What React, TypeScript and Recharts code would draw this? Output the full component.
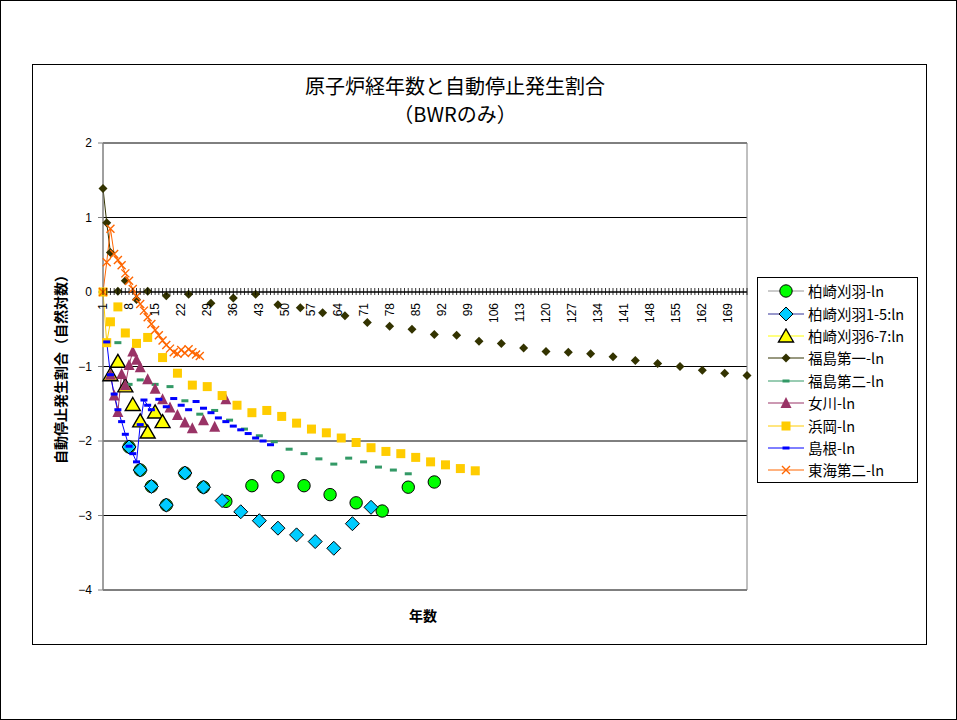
import React from 'react';
import { LineChart, Line, XAxis, YAxis, CartesianGrid, ReferenceLine, ReferenceArea, Legend } from 'recharts';

// [year index, ln(rate)]
const kashiwazaki = [
  [8, -2.08], [11, -2.39], [14, -2.61], [18, -2.86], [23, -2.43], [28, -2.62], [34, -2.81], [41, -2.6],
  [48, -2.48], [55, -2.6], [62, -2.72], [69, -2.83], [76, -2.94], [83, -2.62], [90, -2.55]
];
const kashiwazaki15 = [
  [8, -2.08], [11, -2.39], [14, -2.61], [18, -2.86], [23, -2.43], [28, -2.62], [33, -2.8], [38, -2.95],
  [43, -3.07], [48, -3.17], [53, -3.26], [58, -3.35], [63, -3.44], [68, -3.11], [73, -2.89]
];
const kashiwazaki67 = [
  [3, -1.11], [5, -0.93], [7, -1.26], [9, -1.51], [11, -1.73], [13, -1.88], [15, -1.61], [17, -1.74]
];
const fukushima1 = [
  [1, 1.39], [2, 0.93], [3, 0.53], [5, 0.01], [7, 0.15], [10, -0.1], [13, 0.01], [18, -0.05], [24, -0.03],
  [30, -0.15], [36, -0.08], [42, -0.03], [48, -0.17], [54, -0.21], [60, -0.28], [66, -0.32], [72, -0.41],
  [78, -0.46], [84, -0.5], [90, -0.57], [96, -0.58], [102, -0.66], [108, -0.69], [114, -0.75], [120, -0.8],
  [126, -0.81], [132, -0.83], [138, -0.87], [144, -0.92], [150, -0.96], [156, -1.0], [162, -1.05],
  [168, -1.09], [174, -1.12]
];
const fukushima2 = [
  [5, -0.68], [8, -1.24], [11, -1.18], [15, -1.24], [19, -1.27], [23, -1.46], [27, -1.64], [31, -1.59],
  [35, -1.72], [39, -1.84], [43, -1.93], [47, -2.01], [51, -2.11], [55, -2.17], [59, -2.24], [63, -2.31],
  [67, -2.23], [71, -2.28], [75, -2.35], [79, -2.39], [83, -2.44]
];
const onagawa = [
  [3, -1.11], [4, -1.39], [5, -1.61], [6, -1.1], [7, -1.25], [8, -0.98], [9, -0.8], [10, -0.91], [11, -1.01],
  [13, -1.17], [15, -1.3], [17, -1.44], [19, -1.55], [21, -1.65], [23, -1.75], [25, -1.83], [28, -1.72],
  [31, -1.81], [34, -1.44]
];
const hamaoka = [
  [1, 0], [2, -0.68], [3, -0.4], [5, -0.2], [7, -0.55], [10, -0.69], [13, -0.61], [17, -0.88], [21, -1.09],
  [25, -1.25], [29, -1.27], [33, -1.39], [37, -1.52], [41, -1.62], [45, -1.59], [49, -1.67], [53, -1.76],
  [57, -1.84], [61, -1.89], [65, -1.96], [69, -2.02], [73, -2.09], [77, -2.14], [81, -2.17], [85, -2.22],
  [89, -2.28], [93, -2.32], [97, -2.37], [101, -2.4]
];
const shimane = [
  [2, -0.67], [3, -1.11], [4, -1.37], [5, -1.58], [6, -1.74], [7, -1.91], [8, -2.07], [9, -2.17], [10, -2.28],
  [11, -1.78], [12, -1.45], [13, -1.52], [14, -1.58], [16, -1.44], [18, -1.54], [20, -1.43], [22, -1.52],
  [24, -1.58], [26, -1.47], [28, -1.56], [30, -1.62], [32, -1.69], [34, -1.74], [36, -1.8], [38, -1.85],
  [40, -1.9], [42, -1.96], [44, -2.0], [46, -2.05]
];
const tokai2 = [
  [1, 0], [2, 0.4], [3, 0.85], [4, 0.51], [5, 0.43], [6, 0.36], [7, 0.25], [8, 0.15], [9, 0.04], [10, -0.06],
  [11, -0.16], [12, -0.25], [13, -0.34], [14, -0.43], [15, -0.51], [16, -0.58], [17, -0.65], [18, -0.71],
  [19, -0.76], [20, -0.81], [21, -0.83], [22, -0.78], [23, -0.82], [24, -0.77], [25, -0.81], [26, -0.84],
  [27, -0.86]
];

const CAT_COUNT = 174;
const xTicks = Array.from({ length: CAT_COUNT }, (_, i) => i + 1);
const yTicks = [-4, -3, -2, -1, 0, 1, 2];

const SERIES = [
  { key: 's1', name: '柏崎刈羽-ln', points: kashiwazaki, stroke: '#969696', marker: 'circle', fill: '#00FF00' },
  { key: 's2', name: '柏崎刈羽1-5:ln', points: kashiwazaki15, stroke: '#333399', marker: 'diamond', fill: '#00CCFF' },
  { key: 's3', name: '柏崎刈羽6-7:ln', points: kashiwazaki67, stroke: '#FFFF00', marker: 'bigTriangle', fill: '#FFFF00' },
  { key: 's4', name: '福島第一-ln', points: fukushima1, stroke: '#333300', marker: 'smallDiamond', fill: '#333300' },
  { key: 's5', name: '福島第二-ln', points: fukushima2, stroke: '#339966', marker: 'dash', fill: '#339966' },
  { key: 's6', name: '女川-ln', points: onagawa, stroke: '#993366', marker: 'triangle', fill: '#993366' },
  { key: 's7', name: '浜岡-ln', points: hamaoka, stroke: '#FFCC00', marker: 'square', fill: '#FFCC00' },
  { key: 's8', name: '島根-ln', points: shimane, stroke: '#0000FF', marker: 'dash', fill: '#0000FF' },
  { key: 's9', name: '東海第二-ln', points: tokai2, stroke: '#FF6600', marker: 'cross', fill: '#FF6600' }
];

// one row per year index, blanks where a series has no value
const data = xTicks.map((cat) => {
  const row: any = { cat };
  SERIES.forEach((s) => {
    const hit = s.points.find((p) => p[0] === cat);
    row[s.key] = hit ? hit[1] : null;
  });
  return row;
});

const W = 957;
const H = 720;
const TOP = 143;
const BOTTOM = 100;
const X_AXIS_H = 30;
const PLOT_H = H - TOP - BOTTOM - X_AXIS_H;
const Y_MIN = -4;
const Y_MAX = 2;
const ZERO_Y = TOP + (PLOT_H * Y_MAX) / (Y_MAX - Y_MIN);

const JP = '"Noto Sans CJK JP", sans-serif';
const NUM = '"Liberation Sans", Arial, sans-serif';

const drawMarker = (type: string, cx: number, cy: number, fill: string, k?: string) => {
  switch (type) {
    case 'circle':
      return <circle key={k} cx={cx} cy={cy} r={6.2} fill={fill} stroke="#000" strokeWidth={1} />;
    case 'diamond':
      return <path key={k} d={`M${cx},${cy - 7}L${cx + 7},${cy}L${cx},${cy + 7}L${cx - 7},${cy}Z`} fill={fill} stroke="#000" strokeWidth={1} />;
    case 'smallDiamond':
      return <path key={k} d={`M${cx},${cy - 4.5}L${cx + 4.5},${cy}L${cx},${cy + 4.5}L${cx - 4.5},${cy}Z`} fill={fill} />;
    case 'bigTriangle':
      return <path key={k} d={`M${cx},${cy - 7}L${cx + 7.5},${cy + 6}L${cx - 7.5},${cy + 6}Z`} fill={fill} stroke="#000" strokeWidth={1.4} />;
    case 'triangle':
      return <path key={k} d={`M${cx},${cy - 6}L${cx + 5.5},${cy + 5}L${cx - 5.5},${cy + 5}Z`} fill={fill} />;
    case 'square':
      return <rect key={k} x={cx - 4.5} y={cy - 4.5} width={9} height={9} fill={fill} />;
    case 'dash':
      return <rect key={k} x={cx - 3.5} y={cy - 1.5} width={7} height={3} fill={fill} />;
    case 'cross':
      return (
        <path key={k} d={`M${cx - 4},${cy - 4}L${cx + 4},${cy + 4}M${cx + 4},${cy - 4}L${cx - 4},${cy + 4}`} stroke={fill} strokeWidth={1.4} />
      );
    default:
      return <g key={k} />;
  }
};

const makeDot = (s: any) => (props: any) => {
  const { cx, cy, index, value } = props;
  const k = `${s.key}-${index}`;
  if (value == null || cy == null || Number.isNaN(cy)) return <g key={k} />;
  return drawMarker(s.marker, cx, cy, s.fill, k);
};

const XTick = (props: any) => {
  const { x, payload } = props;
  const v = payload.value;
  const ly = ZERO_Y + 11;
  return (
    <g>
      <line x1={x} x2={x} y1={ZERO_Y - 4} y2={ZERO_Y + 3} stroke="#000" strokeWidth={0.8} />
      {(v - 1) % 7 === 0 && (
        <text
          x={x}
          y={ly}
          transform={`rotate(-90 ${x} ${ly})`}
          textAnchor="end"
          dominantBaseline="central"
          fontSize={12}
          fontFamily={NUM}
          fill="#000"
        >
          {v}
        </text>
      )}
    </g>
  );
};

const renderLegend = () => (
  <div
    style={{
      border: '1px solid #000',
      background: '#fff',
      width: 159,
      height: 202,
      boxSizing: 'content-box',
      paddingTop: 2
    }}
  >
    {SERIES.map((s) => (
      <div key={s.key} style={{ display: 'flex', alignItems: 'center', height: 22.4 }}>
        <svg width={50} height={16} style={{ flex: 'none' }}>
          <line x1={10} x2={46} y1={8} y2={8} stroke={s.stroke} strokeWidth={1} />
          {drawMarker(s.marker, 28, 8, s.fill)}
        </svg>
        <span style={{ fontFamily: JP, fontSize: 14.5, lineHeight: '18px', color: '#000', whiteSpace: 'nowrap' }}>{s.name}</span>
      </div>
    ))}
  </div>
);

const titleStyle: React.CSSProperties = {
  position: 'absolute',
  left: 155,
  width: 600,
  textAlign: 'center',
  fontFamily: JP,
  fontSize: 20,
  lineHeight: '20px',
  color: '#000'
};

const App = () => {
  return (
    <div style={{ position: 'absolute', left: 0, top: 0, width: W, height: H, background: '#fff' }}>
      <LineChart
        width={W}
        height={H}
        data={data}
        margin={{ top: TOP, right: 210, left: 58, bottom: BOTTOM }}
      >
        <CartesianGrid horizontal vertical={false} stroke="#000" strokeWidth={1} />
        <XAxis
          dataKey="cat"
          type="category"
          scale="point"
          padding={{ left: 0, right: 0 }}
          ticks={xTicks}
          interval={0}
          height={X_AXIS_H}
          axisLine={false}
          tickLine={false}
          tick={<XTick />}
        />
        <YAxis
          type="number"
          domain={[Y_MIN, Y_MAX]}
          ticks={yTicks}
          interval={0}
          width={45}
          axisLine={{ stroke: '#808080' }}
          tickLine={{ stroke: '#808080' }}
          tickSize={5}
          tickMargin={6}
          tick={{ fontSize: 12, fill: '#000', fontFamily: NUM }}
          tickFormatter={(v: number) => (v < 0 ? `−${Math.abs(v)}` : `${v}`)}
        />
        <ReferenceArea x1={1} x2={CAT_COUNT} y1={Y_MIN} y2={Y_MAX} fill="none" stroke="#808080" strokeOpacity={1} fillOpacity={0} />
        <ReferenceLine y={0} stroke="#000" strokeWidth={1} />
        <Legend
          layout="horizontal"
          align="center"
          verticalAlign="middle"
          content={renderLegend}
          wrapperStyle={{ left: 757, top: 277, width: 161, height: 204 }}
        />
        {SERIES.map((s) => (
          <Line
            key={s.key}
            dataKey={s.key}
            name={s.name}
            stroke={s.stroke}
            strokeWidth={1}
            dot={makeDot(s)}
            activeDot={false}
            connectNulls={false}
            isAnimationActive={false}
          />
        ))}
      </LineChart>
      <div style={{ ...titleStyle, top: 76 }}>原子炉経年数と自動停止発生割合</div>
      <div style={{ ...titleStyle, top: 104 }}>（BWRのみ）</div>
      <div
        style={{
          position: 'absolute',
          left: 60,
          top: 366,
          transform: 'translate(-50%, -50%) rotate(-90deg)',
          whiteSpace: 'nowrap',
          fontFamily: JP,
          fontSize: 14,
          fontWeight: 700,
          color: '#000'
        }}
      >
        自動停止発生割合（自然対数）
      </div>
      <div
        style={{
          position: 'absolute',
          left: 423,
          top: 615,
          transform: 'translate(-50%, -50%)',
          fontFamily: JP,
          fontSize: 14,
          fontWeight: 700,
          color: '#000'
        }}
      >
        年数
      </div>
      <div style={{ position: 'absolute', left: 32, top: 64, width: 893, height: 579, border: '1px solid #000', pointerEvents: 'none' }} />
      <div style={{ position: 'absolute', left: 0, top: 0, width: W, height: H, boxSizing: 'border-box', border: '1px solid #000', pointerEvents: 'none' }} />
    </div>
  );
};

export default App;
